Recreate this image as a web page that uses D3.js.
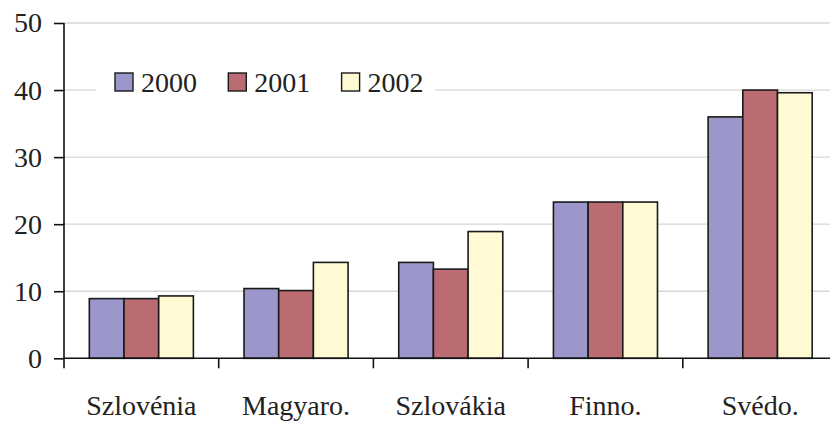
<!DOCTYPE html>
<html>
<head>
<meta charset="utf-8">
<script src="https://cdn.jsdelivr.net/npm/d3@7"></script>
<style>
  html, body { margin: 0; padding: 0; background: #fff; }
  svg { display: block; }
</style>
</head>
<body>
<script>
// Country categories and yearly values
const categories = ["Szlovénia", "Magyaro.", "Szlovákia", "Finno.", "Svédo."];
const years = ["2000", "2001", "2002"];
const values2000 = [8.9, 10.4, 14.3, 23.3, 36.0];
const values2001 = [8.9, 10.1, 13.3, 23.3, 40.0];
const values2002 = [9.3, 14.3, 18.9, 23.3, 39.6];
const yTicks = [0, 10, 20, 30, 40, 50];
const colors = ["#9b97ca", "#ba6c72", "#fffad4"];

const series = [values2000, values2001, values2002];

const FONT = "Liberation Serif, DejaVu Serif";
const W = 830, H = 421;
const plotLeft = 64, plotRight = 837.5, plotTop = 23, plotBottom = 358.3;

const svg = d3.select("body").append("svg").attr("width", W).attr("height", H);

const x = d3.scaleBand().domain(categories).range([plotLeft, plotRight]).paddingInner(0).paddingOuter(0);
const x1 = d3.scaleBand().domain(years).range([0, x.bandwidth()]).paddingInner(0).paddingOuter(0.73);
const y = d3.scaleLinear().domain([0, 50]).range([plotBottom, plotTop]);

// horizontal gridlines
svg.append("g").selectAll("line").data(yTicks.filter(t => t > 0)).join("line")
  .attr("x1", plotLeft).attr("x2", W)
  .attr("y1", d => y(d)).attr("y2", d => y(d))
  .attr("stroke", "#d9d5d5").attr("stroke-width", 1.3);

// bars
const groups = svg.append("g").selectAll("g").data(categories).join("g")
  .attr("transform", d => `translate(${x(d)},0)`);
groups.selectAll("rect").data((c, i) => years.map((yr, s) => ({ yr, s, v: series[s][i] }))).join("rect")
  .attr("x", d => x1(d.yr))
  .attr("width", x1.bandwidth())
  .attr("y", d => y(d.v))
  .attr("height", d => y(0) - y(d.v))
  .attr("fill", d => colors[d.s])
  .attr("stroke", "#1a1a1a").attr("stroke-width", 1.6);

// y axis
const yAxis = d3.axisLeft(y).tickValues(yTicks).tickSize(10).tickPadding(12);
const gy = svg.append("g").attr("transform", `translate(${plotLeft},0)`).call(yAxis)
  .attr("font-family", FONT).attr("font-size", 28);
gy.select(".domain").attr("stroke", "#111").attr("stroke-width", 1.6).attr("d", `M0,${y(0)}V${y(50)}`);
gy.selectAll(".tick line").attr("stroke", "#111").attr("stroke-width", 1.6);
gy.selectAll(".tick text").attr("fill", "#222");

// x axis with ticks at category boundaries
const gx = svg.append("g").attr("transform", `translate(0,${plotBottom})`)
  .attr("font-family", FONT).attr("font-size", 28);
gx.append("line").attr("x1", plotLeft).attr("x2", W).attr("y1", 0).attr("y2", 0)
  .attr("stroke", "#111").attr("stroke-width", 1.6);
gx.selectAll("line.tk").data(categories).join("line").attr("class", "tk")
  .attr("x1", d => x(d)).attr("x2", d => x(d)).attr("y1", 0).attr("y2", 10)
  .attr("stroke", "#111").attr("stroke-width", 1.6);
gx.selectAll("text").data(categories).join("text")
  .attr("x", d => x(d) + x.bandwidth() / 2)
  .attr("y", 57)
  .attr("text-anchor", "middle")
  .attr("fill", "#222")
  .text(d => d);

// legend
const lg = svg.append("g").attr("font-family", FONT).attr("font-size", 28);
lg.append("rect").attr("x", 96).attr("y", 62).attr("width", 339).attr("height", 40).attr("fill", "#fff");
const items = lg.selectAll("g").data(years).join("g")
  .attr("transform", (d, i) => `translate(${115 + i * 113.3},73)`);
items.append("rect").attr("width", 18).attr("height", 18)
  .attr("fill", (d, i) => colors[i]).attr("stroke", "#1a1a1a").attr("stroke-width", 1.4);
items.append("text").attr("x", 26).attr("y", 18.5)
  .attr("fill", "#222").text(d => d);
</script>
</body>
</html>
